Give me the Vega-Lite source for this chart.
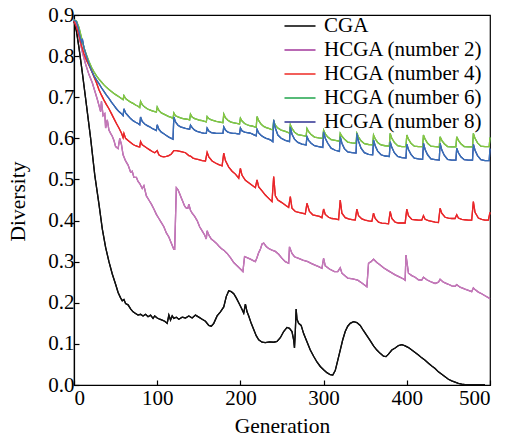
{
"$schema": "https://vega.github.io/schema/vega-lite/v6.json",
"width": 416, "height": 370,
"autosize": {"type": "none"},
"padding": {"left": 74, "top": 15, "right": 16, "bottom": 53},
"background": "white",
"config": {
 "font": "Liberation Serif, Times New Roman, serif",
 "view": {"stroke": "black", "strokeWidth": 1.2},
 "axis": {"grid": false, "domainColor": "black", "domainWidth": 1.2, "tickColor": "black", "tickWidth": 1.2, "tickSize": -5, "labelColor": "black", "titleColor": "black", "labelFont": "Liberation Serif, Times New Roman, serif", "titleFont": "Liberation Serif, Times New Roman, serif", "labelFontSize": 21, "titleFontSize": 21.5, "titleFontWeight": "normal"}
},
"datasets": {
"d": [
{"series":"CGA","gen":0,"div":0.885},{"series":"CGA","gen":3,"div":0.86},{"series":"CGA","gen":6,"div":0.82},{"series":"CGA","gen":10,"div":0.76},{"series":"CGA","gen":15,"div":0.68},{"series":"CGA","gen":20,"div":0.6},{"series":"CGA","gen":25,"div":0.51},{"series":"CGA","gen":30,"div":0.44},{"series":"CGA","gen":34,"div":0.38},{"series":"CGA","gen":38,"div":0.335},{"series":"CGA","gen":42,"div":0.3},{"series":"CGA","gen":46,"div":0.27},{"series":"CGA","gen":50,"div":0.245},{"series":"CGA","gen":53,"div":0.225},{"series":"CGA","gen":56,"div":0.212},{"series":"CGA","gen":58,"div":0.205},{"series":"CGA","gen":60,"div":0.208},{"series":"CGA","gen":62,"div":0.198},{"series":"CGA","gen":65,"div":0.195},{"series":"CGA","gen":68,"div":0.185},{"series":"CGA","gen":71,"div":0.178},{"series":"CGA","gen":74,"div":0.174},{"series":"CGA","gen":77,"div":0.17},{"series":"CGA","gen":80,"div":0.172},{"series":"CGA","gen":83,"div":0.168},{"series":"CGA","gen":86,"div":0.172},{"series":"CGA","gen":89,"div":0.166},{"series":"CGA","gen":92,"div":0.17},{"series":"CGA","gen":95,"div":0.162},{"series":"CGA","gen":97,"div":0.168},{"series":"CGA","gen":100,"div":0.163},{"series":"CGA","gen":103,"div":0.16},{"series":"CGA","gen":106,"div":0.158},{"series":"CGA","gen":109,"div":0.155},{"series":"CGA","gen":112,"div":0.15},{"series":"CGA","gen":114,"div":0.17},{"series":"CGA","gen":116,"div":0.158},{"series":"CGA","gen":118,"div":0.168},{"series":"CGA","gen":120,"div":0.162},{"series":"CGA","gen":123,"div":0.165},{"series":"CGA","gen":126,"div":0.16},{"series":"CGA","gen":130,"div":0.165},{"series":"CGA","gen":134,"div":0.163},{"series":"CGA","gen":138,"div":0.168},{"series":"CGA","gen":142,"div":0.163},{"series":"CGA","gen":146,"div":0.17},{"series":"CGA","gen":150,"div":0.165},{"series":"CGA","gen":154,"div":0.16},{"series":"CGA","gen":158,"div":0.155},{"series":"CGA","gen":162,"div":0.145},{"series":"CGA","gen":165,"div":0.143},{"series":"CGA","gen":168,"div":0.15},{"series":"CGA","gen":172,"div":0.168},{"series":"CGA","gen":176,"div":0.178},{"series":"CGA","gen":180,"div":0.19},{"series":"CGA","gen":183,"div":0.215},{"series":"CGA","gen":186,"div":0.229},{"series":"CGA","gen":189,"div":0.227},{"series":"CGA","gen":192,"div":0.222},{"series":"CGA","gen":195,"div":0.212},{"series":"CGA","gen":198,"div":0.2},{"series":"CGA","gen":201,"div":0.188},{"series":"CGA","gen":204,"div":0.175},{"series":"CGA","gen":206,"div":0.197},{"series":"CGA","gen":208,"div":0.178},{"series":"CGA","gen":210,"div":0.168},{"series":"CGA","gen":213,"div":0.15},{"series":"CGA","gen":216,"div":0.135},{"series":"CGA","gen":219,"div":0.12},{"series":"CGA","gen":222,"div":0.11},{"series":"CGA","gen":226,"div":0.104},{"series":"CGA","gen":230,"div":0.103},{"series":"CGA","gen":235,"div":0.105},{"series":"CGA","gen":240,"div":0.104},{"series":"CGA","gen":244,"div":0.106},{"series":"CGA","gen":248,"div":0.115},{"series":"CGA","gen":252,"div":0.13},{"series":"CGA","gen":256,"div":0.14},{"series":"CGA","gen":259,"div":0.138},{"series":"CGA","gen":262,"div":0.13},{"series":"CGA","gen":264,"div":0.11},{"series":"CGA","gen":265,"div":0.09},{"series":"CGA","gen":266,"div":0.13},{"series":"CGA","gen":267,"div":0.185},{"series":"CGA","gen":268,"div":0.16},{"series":"CGA","gen":270,"div":0.15},{"series":"CGA","gen":273,"div":0.145},{"series":"CGA","gen":276,"div":0.125},{"series":"CGA","gen":280,"div":0.105},{"series":"CGA","gen":284,"div":0.085},{"series":"CGA","gen":288,"div":0.07},{"series":"CGA","gen":292,"div":0.056},{"series":"CGA","gen":296,"div":0.045},{"series":"CGA","gen":300,"div":0.037},{"series":"CGA","gen":304,"div":0.03},{"series":"CGA","gen":308,"div":0.025},{"series":"CGA","gen":311,"div":0.024},{"series":"CGA","gen":314,"div":0.035},{"series":"CGA","gen":317,"div":0.06},{"series":"CGA","gen":320,"div":0.085},{"series":"CGA","gen":323,"div":0.11},{"series":"CGA","gen":326,"div":0.13},{"series":"CGA","gen":329,"div":0.143},{"series":"CGA","gen":332,"div":0.15},{"series":"CGA","gen":336,"div":0.154},{"series":"CGA","gen":340,"div":0.152},{"series":"CGA","gen":344,"div":0.145},{"series":"CGA","gen":348,"div":0.132},{"series":"CGA","gen":352,"div":0.12},{"series":"CGA","gen":356,"div":0.108},{"series":"CGA","gen":360,"div":0.095},{"series":"CGA","gen":364,"div":0.085},{"series":"CGA","gen":368,"div":0.077},{"series":"CGA","gen":372,"div":0.07},{"series":"CGA","gen":375,"div":0.069},{"series":"CGA","gen":378,"div":0.075},{"series":"CGA","gen":382,"div":0.085},{"series":"CGA","gen":386,"div":0.09},{"series":"CGA","gen":390,"div":0.096},{"series":"CGA","gen":394,"div":0.098},{"series":"CGA","gen":398,"div":0.095},{"series":"CGA","gen":402,"div":0.091},{"series":"CGA","gen":406,"div":0.085},{"series":"CGA","gen":410,"div":0.079},{"series":"CGA","gen":414,"div":0.073},{"series":"CGA","gen":418,"div":0.066},{"series":"CGA","gen":422,"div":0.06},{"series":"CGA","gen":426,"div":0.053},{"series":"CGA","gen":430,"div":0.046},{"series":"CGA","gen":434,"div":0.04},{"series":"CGA","gen":438,"div":0.032},{"series":"CGA","gen":442,"div":0.026},{"series":"CGA","gen":446,"div":0.02},{"series":"CGA","gen":450,"div":0.014},{"series":"CGA","gen":454,"div":0.01},{"series":"CGA","gen":458,"div":0.007},{"series":"CGA","gen":462,"div":0.004},{"series":"CGA","gen":466,"div":0.002},{"series":"CGA","gen":470,"div":0.001},{"series":"CGA","gen":480,"div":0.001},{"series":"CGA","gen":494,"div":0.001},

{"series":"HCGA (number 2)","gen":0,"div":0.885},{"series":"HCGA (number 2)","gen":3,"div":0.875},{"series":"HCGA (number 2)","gen":6,"div":0.85},{"series":"HCGA (number 2)","gen":10,"div":0.81},{"series":"HCGA (number 2)","gen":14,"div":0.78},{"series":"HCGA (number 2)","gen":18,"div":0.755},{"series":"HCGA (number 2)","gen":22,"div":0.735},{"series":"HCGA (number 2)","gen":25,"div":0.715},{"series":"HCGA (number 2)","gen":28,"div":0.695},{"series":"HCGA (number 2)","gen":30,"div":0.68},{"series":"HCGA (number 2)","gen":32,"div":0.665},{"series":"HCGA (number 2)","gen":33,"div":0.69},{"series":"HCGA (number 2)","gen":35,"div":0.655},{"series":"HCGA (number 2)","gen":37,"div":0.66},{"series":"HCGA (number 2)","gen":38,"div":0.625},{"series":"HCGA (number 2)","gen":40,"div":0.645},{"series":"HCGA (number 2)","gen":42,"div":0.62},{"series":"HCGA (number 2)","gen":44,"div":0.612},{"series":"HCGA (number 2)","gen":46,"div":0.605},{"series":"HCGA (number 2)","gen":48,"div":0.595},{"series":"HCGA (number 2)","gen":50,"div":0.58},{"series":"HCGA (number 2)","gen":53,"div":0.575},{"series":"HCGA (number 2)","gen":55,"div":0.6},{"series":"HCGA (number 2)","gen":57,"div":0.585},{"series":"HCGA (number 2)","gen":59,"div":0.56},{"series":"HCGA (number 2)","gen":62,"div":0.545},{"series":"HCGA (number 2)","gen":65,"div":0.535},{"series":"HCGA (number 2)","gen":68,"div":0.518},{"series":"HCGA (number 2)","gen":70,"div":0.52},{"series":"HCGA (number 2)","gen":72,"div":0.505},{"series":"HCGA (number 2)","gen":75,"div":0.505},{"series":"HCGA (number 2)","gen":77,"div":0.495},{"series":"HCGA (number 2)","gen":79,"div":0.49},{"series":"HCGA (number 2)","gen":82,"div":0.478},{"series":"HCGA (number 2)","gen":84,"div":0.485},{"series":"HCGA (number 2)","gen":87,"div":0.46},{"series":"HCGA (number 2)","gen":90,"div":0.45},{"series":"HCGA (number 2)","gen":93,"div":0.44},{"series":"HCGA (number 2)","gen":96,"div":0.428},{"series":"HCGA (number 2)","gen":99,"div":0.415},{"series":"HCGA (number 2)","gen":102,"div":0.405},{"series":"HCGA (number 2)","gen":105,"div":0.395},{"series":"HCGA (number 2)","gen":108,"div":0.385},{"series":"HCGA (number 2)","gen":111,"div":0.37},{"series":"HCGA (number 2)","gen":114,"div":0.36},{"series":"HCGA (number 2)","gen":117,"div":0.345},{"series":"HCGA (number 2)","gen":120,"div":0.33},{"series":"HCGA (number 2)","gen":121,"div":0.33},{"series":"HCGA (number 2)","gen":123,"div":0.48},{"series":"HCGA (number 2)","gen":125,"div":0.475},{"series":"HCGA (number 2)","gen":127,"div":0.465},{"series":"HCGA (number 2)","gen":129,"div":0.455},{"series":"HCGA (number 2)","gen":131,"div":0.445},{"series":"HCGA (number 2)","gen":133,"div":0.435},{"series":"HCGA (number 2)","gen":135,"div":0.43},{"series":"HCGA (number 2)","gen":137,"div":0.43},{"series":"HCGA (number 2)","gen":138,"div":0.44},{"series":"HCGA (number 2)","gen":140,"div":0.425},{"series":"HCGA (number 2)","gen":142,"div":0.418},{"series":"HCGA (number 2)","gen":145,"div":0.41},{"series":"HCGA (number 2)","gen":148,"div":0.4},{"series":"HCGA (number 2)","gen":151,"div":0.385},{"series":"HCGA (number 2)","gen":154,"div":0.375},{"series":"HCGA (number 2)","gen":157,"div":0.365},{"series":"HCGA (number 2)","gen":159,"div":0.355},{"series":"HCGA (number 2)","gen":160,"div":0.375},{"series":"HCGA (number 2)","gen":162,"div":0.365},{"series":"HCGA (number 2)","gen":165,"div":0.355},{"series":"HCGA (number 2)","gen":168,"div":0.35},{"series":"HCGA (number 2)","gen":171,"div":0.345},{"series":"HCGA (number 2)","gen":174,"div":0.338},{"series":"HCGA (number 2)","gen":177,"div":0.332},{"series":"HCGA (number 2)","gen":180,"div":0.328},{"series":"HCGA (number 2)","gen":184,"div":0.32},{"series":"HCGA (number 2)","gen":188,"div":0.31},{"series":"HCGA (number 2)","gen":192,"div":0.298},{"series":"HCGA (number 2)","gen":196,"div":0.29},{"series":"HCGA (number 2)","gen":200,"div":0.282},{"series":"HCGA (number 2)","gen":203,"div":0.276},{"series":"HCGA (number 2)","gen":205,"div":0.312},{"series":"HCGA (number 2)","gen":208,"div":0.31},{"series":"HCGA (number 2)","gen":212,"div":0.306},{"series":"HCGA (number 2)","gen":216,"div":0.302},{"series":"HCGA (number 2)","gen":218,"div":0.3},{"series":"HCGA (number 2)","gen":220,"div":0.31},{"series":"HCGA (number 2)","gen":222,"div":0.322},{"series":"HCGA (number 2)","gen":224,"div":0.33},{"series":"HCGA (number 2)","gen":226,"div":0.343},{"series":"HCGA (number 2)","gen":228,"div":0.345},{"series":"HCGA (number 2)","gen":231,"div":0.337},{"series":"HCGA (number 2)","gen":234,"div":0.332},{"series":"HCGA (number 2)","gen":238,"div":0.328},{"series":"HCGA (number 2)","gen":242,"div":0.325},{"series":"HCGA (number 2)","gen":246,"div":0.318},{"series":"HCGA (number 2)","gen":250,"div":0.308},{"series":"HCGA (number 2)","gen":254,"div":0.3},{"series":"HCGA (number 2)","gen":258,"div":0.296},{"series":"HCGA (number 2)","gen":259,"div":0.336},{"series":"HCGA (number 2)","gen":262,"div":0.32},{"series":"HCGA (number 2)","gen":265,"div":0.312},{"series":"HCGA (number 2)","gen":270,"div":0.308},{"series":"HCGA (number 2)","gen":275,"div":0.304},{"series":"HCGA (number 2)","gen":281,"div":0.3},{"series":"HCGA (number 2)","gen":285,"div":0.296},{"series":"HCGA (number 2)","gen":289,"div":0.292},{"series":"HCGA (number 2)","gen":294,"div":0.288},{"series":"HCGA (number 2)","gen":298,"div":0.284},{"series":"HCGA (number 2)","gen":300,"div":0.308},{"series":"HCGA (number 2)","gen":302,"div":0.29},{"series":"HCGA (number 2)","gen":307,"div":0.282},{"series":"HCGA (number 2)","gen":313,"div":0.276},{"series":"HCGA (number 2)","gen":317,"div":0.276},{"series":"HCGA (number 2)","gen":320,"div":0.285},{"series":"HCGA (number 2)","gen":322,"div":0.272},{"series":"HCGA (number 2)","gen":326,"div":0.265},{"series":"HCGA (number 2)","gen":329,"div":0.26},{"series":"HCGA (number 2)","gen":335,"div":0.258},{"series":"HCGA (number 2)","gen":341,"div":0.255},{"series":"HCGA (number 2)","gen":346,"div":0.248},{"series":"HCGA (number 2)","gen":352,"div":0.239},{"series":"HCGA (number 2)","gen":354,"div":0.296},{"series":"HCGA (number 2)","gen":357,"div":0.3},{"series":"HCGA (number 2)","gen":360,"div":0.306},{"series":"HCGA (number 2)","gen":364,"div":0.298},{"series":"HCGA (number 2)","gen":368,"div":0.292},{"series":"HCGA (number 2)","gen":372,"div":0.285},{"series":"HCGA (number 2)","gen":376,"div":0.28},{"series":"HCGA (number 2)","gen":381,"div":0.274},{"series":"HCGA (number 2)","gen":386,"div":0.268},{"series":"HCGA (number 2)","gen":391,"div":0.263},{"series":"HCGA (number 2)","gen":396,"div":0.258},{"series":"HCGA (number 2)","gen":398,"div":0.255},{"series":"HCGA (number 2)","gen":399,"div":0.316},{"series":"HCGA (number 2)","gen":402,"div":0.272},{"series":"HCGA (number 2)","gen":406,"div":0.266},{"series":"HCGA (number 2)","gen":410,"div":0.262},{"series":"HCGA (number 2)","gen":414,"div":0.256},{"series":"HCGA (number 2)","gen":418,"div":0.255},{"series":"HCGA (number 2)","gen":420,"div":0.262},{"series":"HCGA (number 2)","gen":424,"div":0.256},{"series":"HCGA (number 2)","gen":430,"div":0.25},{"series":"HCGA (number 2)","gen":434,"div":0.247},{"series":"HCGA (number 2)","gen":438,"div":0.25},{"series":"HCGA (number 2)","gen":440,"div":0.257},{"series":"HCGA (number 2)","gen":444,"div":0.25},{"series":"HCGA (number 2)","gen":450,"div":0.245},{"series":"HCGA (number 2)","gen":454,"div":0.241},{"series":"HCGA (number 2)","gen":458,"div":0.24},{"series":"HCGA (number 2)","gen":460,"div":0.244},{"series":"HCGA (number 2)","gen":464,"div":0.238},{"series":"HCGA (number 2)","gen":470,"div":0.233},{"series":"HCGA (number 2)","gen":474,"div":0.23},{"series":"HCGA (number 2)","gen":478,"div":0.227},{"series":"HCGA (number 2)","gen":480,"div":0.236},{"series":"HCGA (number 2)","gen":482,"div":0.232},{"series":"HCGA (number 2)","gen":486,"div":0.226},{"series":"HCGA (number 2)","gen":490,"div":0.222},{"series":"HCGA (number 2)","gen":494,"div":0.217},{"series":"HCGA (number 2)","gen":500,"div":0.21},

{"series":"HCGA (number 4)","gen":0,"div":0.885},{"series":"HCGA (number 4)","gen":3,"div":0.87},{"series":"HCGA (number 4)","gen":6,"div":0.85},{"series":"HCGA (number 4)","gen":9,"div":0.825},{"series":"HCGA (number 4)","gen":12,"div":0.805},{"series":"HCGA (number 4)","gen":15,"div":0.79},{"series":"HCGA (number 4)","gen":18,"div":0.778},{"series":"HCGA (number 4)","gen":21,"div":0.765},{"series":"HCGA (number 4)","gen":24,"div":0.75},{"series":"HCGA (number 4)","gen":27,"div":0.735},{"series":"HCGA (number 4)","gen":30,"div":0.718},{"series":"HCGA (number 4)","gen":33,"div":0.705},{"series":"HCGA (number 4)","gen":36,"div":0.693},{"series":"HCGA (number 4)","gen":39,"div":0.682},{"series":"HCGA (number 4)","gen":42,"div":0.672},{"series":"HCGA (number 4)","gen":45,"div":0.66},{"series":"HCGA (number 4)","gen":48,"div":0.648},{"series":"HCGA (number 4)","gen":51,"div":0.636},{"series":"HCGA (number 4)","gen":54,"div":0.625},{"series":"HCGA (number 4)","gen":57,"div":0.613},{"series":"HCGA (number 4)","gen":59,"div":0.602},{"series":"HCGA (number 4)","gen":60,"div":0.612},{"series":"HCGA (number 4)","gen":62,"div":0.6},{"series":"HCGA (number 4)","gen":65,"div":0.595},{"series":"HCGA (number 4)","gen":68,"div":0.59},{"series":"HCGA (number 4)","gen":71,"div":0.585},{"series":"HCGA (number 4)","gen":74,"div":0.582},{"series":"HCGA (number 4)","gen":77,"div":0.58},{"series":"HCGA (number 4)","gen":79,"div":0.579},{"series":"HCGA (number 4)","gen":80,"div":0.592},{"series":"HCGA (number 4)","gen":82,"div":0.584},{"series":"HCGA (number 4)","gen":85,"div":0.58},{"series":"HCGA (number 4)","gen":88,"div":0.576},{"series":"HCGA (number 4)","gen":91,"div":0.572},{"series":"HCGA (number 4)","gen":94,"div":0.568},{"series":"HCGA (number 4)","gen":97,"div":0.565},{"series":"HCGA (number 4)","gen":100,"div":0.57},{"series":"HCGA (number 4)","gen":102,"div":0.56},{"series":"HCGA (number 4)","gen":105,"div":0.556},{"series":"HCGA (number 4)","gen":108,"div":0.555},{"series":"HCGA (number 4)","gen":111,"div":0.556},{"series":"HCGA (number 4)","gen":114,"div":0.558},{"series":"HCGA (number 4)","gen":117,"div":0.562},{"series":"HCGA (number 4)","gen":120,"div":0.57},{"series":"HCGA (number 4)","gen":123,"div":0.57},{"series":"HCGA (number 4)","gen":126,"div":0.569},{"series":"HCGA (number 4)","gen":130,"div":0.567},{"series":"HCGA (number 4)","gen":134,"div":0.565},{"series":"HCGA (number 4)","gen":138,"div":0.558},{"series":"HCGA (number 4)","gen":140,"div":0.557},{"series":"HCGA (number 4)","gen":143,"div":0.552},{"series":"HCGA (number 4)","gen":146,"div":0.55},{"series":"HCGA (number 4)","gen":150,"div":0.548},{"series":"HCGA (number 4)","gen":154,"div":0.546},{"series":"HCGA (number 4)","gen":158,"div":0.545},{"series":"HCGA (number 4)","gen":160,"div":0.566},{"series":"HCGA (number 4)","gen":162,"div":0.555},{"series":"HCGA (number 4)","gen":166,"div":0.545},{"series":"HCGA (number 4)","gen":170,"div":0.54},{"series":"HCGA (number 4)","gen":174,"div":0.536},{"series":"HCGA (number 4)","gen":178,"div":0.533},{"series":"HCGA (number 4)","gen":180,"div":0.564},{"series":"HCGA (number 4)","gen":182,"div":0.546},{"series":"HCGA (number 4)","gen":186,"div":0.53},{"series":"HCGA (number 4)","gen":190,"div":0.52},{"series":"HCGA (number 4)","gen":194,"div":0.513},{"series":"HCGA (number 4)","gen":198,"div":0.503},{"series":"HCGA (number 4)","gen":200,"div":0.527},{"series":"HCGA (number 4)","gen":202,"div":0.51},{"series":"HCGA (number 4)","gen":206,"div":0.498},{"series":"HCGA (number 4)","gen":210,"div":0.492},{"series":"HCGA (number 4)","gen":214,"div":0.486},{"series":"HCGA (number 4)","gen":218,"div":0.48},{"series":"HCGA (number 4)","gen":220,"div":0.499},{"series":"HCGA (number 4)","gen":222,"div":0.482},{"series":"HCGA (number 4)","gen":226,"div":0.472},{"series":"HCGA (number 4)","gen":230,"div":0.462},{"series":"HCGA (number 4)","gen":234,"div":0.454},{"series":"HCGA (number 4)","gen":238,"div":0.446},{"series":"HCGA (number 4)","gen":240,"div":0.507},{"series":"HCGA (number 4)","gen":242,"div":0.46},{"series":"HCGA (number 4)","gen":245,"div":0.45},{"series":"HCGA (number 4)","gen":248,"div":0.446},{"series":"HCGA (number 4)","gen":251,"div":0.442},{"series":"HCGA (number 4)","gen":255,"div":0.436},{"series":"HCGA (number 4)","gen":258,"div":0.432},{"series":"HCGA (number 4)","gen":260,"div":0.458},{"series":"HCGA (number 4)","gen":262,"div":0.43},{"series":"HCGA (number 4)","gen":266,"div":0.422},{"series":"HCGA (number 4)","gen":270,"div":0.42},{"series":"HCGA (number 4)","gen":274,"div":0.418},{"series":"HCGA (number 4)","gen":278,"div":0.416},{"series":"HCGA (number 4)","gen":280,"div":0.442},{"series":"HCGA (number 4)","gen":283,"div":0.422},{"series":"HCGA (number 4)","gen":287,"div":0.414},{"series":"HCGA (number 4)","gen":291,"div":0.412},{"series":"HCGA (number 4)","gen":295,"div":0.41},{"series":"HCGA (number 4)","gen":298,"div":0.407},{"series":"HCGA (number 4)","gen":300,"div":0.428},{"series":"HCGA (number 4)","gen":302,"div":0.415},{"series":"HCGA (number 4)","gen":306,"div":0.408},{"series":"HCGA (number 4)","gen":310,"div":0.405},{"series":"HCGA (number 4)","gen":314,"div":0.404},{"series":"HCGA (number 4)","gen":318,"div":0.402},{"series":"HCGA (number 4)","gen":320,"div":0.45},{"series":"HCGA (number 4)","gen":322,"div":0.418},{"series":"HCGA (number 4)","gen":326,"div":0.407},{"series":"HCGA (number 4)","gen":330,"div":0.404},{"series":"HCGA (number 4)","gen":334,"div":0.402},{"series":"HCGA (number 4)","gen":338,"div":0.401},{"series":"HCGA (number 4)","gen":340,"div":0.428},{"series":"HCGA (number 4)","gen":342,"div":0.412},{"series":"HCGA (number 4)","gen":346,"div":0.404},{"series":"HCGA (number 4)","gen":350,"div":0.401},{"series":"HCGA (number 4)","gen":354,"div":0.399},{"series":"HCGA (number 4)","gen":358,"div":0.398},{"series":"HCGA (number 4)","gen":360,"div":0.418},{"series":"HCGA (number 4)","gen":362,"div":0.405},{"series":"HCGA (number 4)","gen":366,"div":0.396},{"series":"HCGA (number 4)","gen":370,"div":0.394},{"series":"HCGA (number 4)","gen":374,"div":0.393},{"series":"HCGA (number 4)","gen":378,"div":0.392},{"series":"HCGA (number 4)","gen":380,"div":0.422},{"series":"HCGA (number 4)","gen":382,"div":0.405},{"series":"HCGA (number 4)","gen":386,"div":0.396},{"series":"HCGA (number 4)","gen":390,"div":0.394},{"series":"HCGA (number 4)","gen":394,"div":0.394},{"series":"HCGA (number 4)","gen":398,"div":0.394},{"series":"HCGA (number 4)","gen":400,"div":0.428},{"series":"HCGA (number 4)","gen":402,"div":0.412},{"series":"HCGA (number 4)","gen":406,"div":0.403},{"series":"HCGA (number 4)","gen":410,"div":0.402},{"series":"HCGA (number 4)","gen":414,"div":0.401},{"series":"HCGA (number 4)","gen":418,"div":0.401},{"series":"HCGA (number 4)","gen":420,"div":0.412},{"series":"HCGA (number 4)","gen":422,"div":0.403},{"series":"HCGA (number 4)","gen":426,"div":0.4},{"series":"HCGA (number 4)","gen":430,"div":0.398},{"series":"HCGA (number 4)","gen":434,"div":0.396},{"series":"HCGA (number 4)","gen":438,"div":0.395},{"series":"HCGA (number 4)","gen":440,"div":0.43},{"series":"HCGA (number 4)","gen":442,"div":0.418},{"series":"HCGA (number 4)","gen":446,"div":0.408},{"series":"HCGA (number 4)","gen":450,"div":0.406},{"series":"HCGA (number 4)","gen":454,"div":0.405},{"series":"HCGA (number 4)","gen":458,"div":0.405},{"series":"HCGA (number 4)","gen":460,"div":0.414},{"series":"HCGA (number 4)","gen":462,"div":0.406},{"series":"HCGA (number 4)","gen":466,"div":0.403},{"series":"HCGA (number 4)","gen":470,"div":0.402},{"series":"HCGA (number 4)","gen":474,"div":0.401},{"series":"HCGA (number 4)","gen":478,"div":0.401},{"series":"HCGA (number 4)","gen":480,"div":0.446},{"series":"HCGA (number 4)","gen":482,"div":0.42},{"series":"HCGA (number 4)","gen":486,"div":0.406},{"series":"HCGA (number 4)","gen":490,"div":0.403},{"series":"HCGA (number 4)","gen":494,"div":0.401},{"series":"HCGA (number 4)","gen":498,"div":0.401},{"series":"HCGA (number 4)","gen":500,"div":0.42},

{"series":"HCGA (number 6)","gen":0,"div":0.888},{"series":"HCGA (number 6)","gen":3,"div":0.885},{"series":"HCGA (number 6)","gen":6,"div":0.87},{"series":"HCGA (number 6)","gen":9,"div":0.845},{"series":"HCGA (number 6)","gen":12,"div":0.82},{"series":"HCGA (number 6)","gen":15,"div":0.803},{"series":"HCGA (number 6)","gen":18,"div":0.787},{"series":"HCGA (number 6)","gen":21,"div":0.773},{"series":"HCGA (number 6)","gen":24,"div":0.762},{"series":"HCGA (number 6)","gen":27,"div":0.752},{"series":"HCGA (number 6)","gen":30,"div":0.744},{"series":"HCGA (number 6)","gen":33,"div":0.737},{"series":"HCGA (number 6)","gen":36,"div":0.73},{"series":"HCGA (number 6)","gen":39,"div":0.724},{"series":"HCGA (number 6)","gen":42,"div":0.719},{"series":"HCGA (number 6)","gen":45,"div":0.714},{"series":"HCGA (number 6)","gen":48,"div":0.709},{"series":"HCGA (number 6)","gen":51,"div":0.705},{"series":"HCGA (number 6)","gen":54,"div":0.701},{"series":"HCGA (number 6)","gen":57,"div":0.697},{"series":"HCGA (number 6)","gen":59,"div":0.694},{"series":"HCGA (number 6)","gen":60,"div":0.704},{"series":"HCGA (number 6)","gen":62,"div":0.697},{"series":"HCGA (number 6)","gen":65,"div":0.692},{"series":"HCGA (number 6)","gen":68,"div":0.688},{"series":"HCGA (number 6)","gen":71,"div":0.685},{"series":"HCGA (number 6)","gen":74,"div":0.681},{"series":"HCGA (number 6)","gen":77,"div":0.678},{"series":"HCGA (number 6)","gen":79,"div":0.675},{"series":"HCGA (number 6)","gen":80,"div":0.69},{"series":"HCGA (number 6)","gen":82,"div":0.682},{"series":"HCGA (number 6)","gen":85,"div":0.676},{"series":"HCGA (number 6)","gen":88,"div":0.672},{"series":"HCGA (number 6)","gen":91,"div":0.669},{"series":"HCGA (number 6)","gen":94,"div":0.667},{"series":"HCGA (number 6)","gen":97,"div":0.665},{"series":"HCGA (number 6)","gen":99,"div":0.664},{"series":"HCGA (number 6)","gen":100,"div":0.676},{"series":"HCGA (number 6)","gen":102,"div":0.668},{"series":"HCGA (number 6)","gen":105,"div":0.662},{"series":"HCGA (number 6)","gen":108,"div":0.659},{"series":"HCGA (number 6)","gen":111,"div":0.656},{"series":"HCGA (number 6)","gen":114,"div":0.653},{"series":"HCGA (number 6)","gen":117,"div":0.651},{"series":"HCGA (number 6)","gen":119,"div":0.648},{"series":"HCGA (number 6)","gen":120,"div":0.662},{"series":"HCGA (number 6)","gen":122,"div":0.655},{"series":"HCGA (number 6)","gen":125,"div":0.652},{"series":"HCGA (number 6)","gen":128,"div":0.65},{"series":"HCGA (number 6)","gen":131,"div":0.648},{"series":"HCGA (number 6)","gen":134,"div":0.647},{"series":"HCGA (number 6)","gen":137,"div":0.646},{"series":"HCGA (number 6)","gen":139,"div":0.645},{"series":"HCGA (number 6)","gen":140,"div":0.659},{"series":"HCGA (number 6)","gen":142,"div":0.652},{"series":"HCGA (number 6)","gen":145,"div":0.648},{"series":"HCGA (number 6)","gen":148,"div":0.646},{"series":"HCGA (number 6)","gen":151,"div":0.644},{"series":"HCGA (number 6)","gen":154,"div":0.643},{"series":"HCGA (number 6)","gen":157,"div":0.641},{"series":"HCGA (number 6)","gen":159,"div":0.64},{"series":"HCGA (number 6)","gen":160,"div":0.653},{"series":"HCGA (number 6)","gen":162,"div":0.648},{"series":"HCGA (number 6)","gen":165,"div":0.645},{"series":"HCGA (number 6)","gen":168,"div":0.643},{"series":"HCGA (number 6)","gen":171,"div":0.641},{"series":"HCGA (number 6)","gen":174,"div":0.64},{"series":"HCGA (number 6)","gen":177,"div":0.639},{"series":"HCGA (number 6)","gen":179,"div":0.638},{"series":"HCGA (number 6)","gen":180,"div":0.659},{"series":"HCGA (number 6)","gen":182,"div":0.65},{"series":"HCGA (number 6)","gen":185,"div":0.644},{"series":"HCGA (number 6)","gen":188,"div":0.64},{"series":"HCGA (number 6)","gen":191,"div":0.638},{"series":"HCGA (number 6)","gen":194,"div":0.637},{"series":"HCGA (number 6)","gen":197,"div":0.636},{"series":"HCGA (number 6)","gen":199,"div":0.635},{"series":"HCGA (number 6)","gen":200,"div":0.649},{"series":"HCGA (number 6)","gen":202,"div":0.642},{"series":"HCGA (number 6)","gen":205,"div":0.636},{"series":"HCGA (number 6)","gen":208,"div":0.633},{"series":"HCGA (number 6)","gen":211,"div":0.631},{"series":"HCGA (number 6)","gen":214,"div":0.63},{"series":"HCGA (number 6)","gen":217,"div":0.628},{"series":"HCGA (number 6)","gen":219,"div":0.627},{"series":"HCGA (number 6)","gen":220,"div":0.653},{"series":"HCGA (number 6)","gen":222,"div":0.643},{"series":"HCGA (number 6)","gen":225,"div":0.634},{"series":"HCGA (number 6)","gen":228,"div":0.629},{"series":"HCGA (number 6)","gen":231,"div":0.626},{"series":"HCGA (number 6)","gen":234,"div":0.624},{"series":"HCGA (number 6)","gen":237,"div":0.622},{"series":"HCGA (number 6)","gen":239,"div":0.621},{"series":"HCGA (number 6)","gen":240,"div":0.641},{"series":"HCGA (number 6)","gen":242,"div":0.632},{"series":"HCGA (number 6)","gen":245,"div":0.625},{"series":"HCGA (number 6)","gen":249,"div":0.62},{"series":"HCGA (number 6)","gen":254,"div":0.617},{"series":"HCGA (number 6)","gen":259,"div":0.613},{"series":"HCGA (number 6)","gen":260,"div":0.633},{"series":"HCGA (number 6)","gen":262,"div":0.624},{"series":"HCGA (number 6)","gen":265,"div":0.615},{"series":"HCGA (number 6)","gen":269,"div":0.609},{"series":"HCGA (number 6)","gen":274,"div":0.607},{"series":"HCGA (number 6)","gen":279,"div":0.605},{"series":"HCGA (number 6)","gen":280,"div":0.624},{"series":"HCGA (number 6)","gen":282,"div":0.616},{"series":"HCGA (number 6)","gen":285,"div":0.609},{"series":"HCGA (number 6)","gen":289,"div":0.603},{"series":"HCGA (number 6)","gen":294,"div":0.601},{"series":"HCGA (number 6)","gen":299,"div":0.6},{"series":"HCGA (number 6)","gen":300,"div":0.62},{"series":"HCGA (number 6)","gen":302,"div":0.611},{"series":"HCGA (number 6)","gen":305,"div":0.603},{"series":"HCGA (number 6)","gen":309,"div":0.597},{"series":"HCGA (number 6)","gen":314,"div":0.595},{"series":"HCGA (number 6)","gen":319,"div":0.593},{"series":"HCGA (number 6)","gen":320,"div":0.612},{"series":"HCGA (number 6)","gen":322,"div":0.605},{"series":"HCGA (number 6)","gen":325,"div":0.598},{"series":"HCGA (number 6)","gen":329,"div":0.591},{"series":"HCGA (number 6)","gen":334,"div":0.589},{"series":"HCGA (number 6)","gen":339,"div":0.588},{"series":"HCGA (number 6)","gen":340,"div":0.612},{"series":"HCGA (number 6)","gen":342,"div":0.603},{"series":"HCGA (number 6)","gen":345,"div":0.594},{"series":"HCGA (number 6)","gen":349,"div":0.587},{"series":"HCGA (number 6)","gen":354,"div":0.585},{"series":"HCGA (number 6)","gen":359,"div":0.584},{"series":"HCGA (number 6)","gen":360,"div":0.608},{"series":"HCGA (number 6)","gen":362,"div":0.599},{"series":"HCGA (number 6)","gen":365,"div":0.59},{"series":"HCGA (number 6)","gen":369,"div":0.584},{"series":"HCGA (number 6)","gen":374,"div":0.582},{"series":"HCGA (number 6)","gen":379,"div":0.581},{"series":"HCGA (number 6)","gen":380,"div":0.612},{"series":"HCGA (number 6)","gen":382,"div":0.6},{"series":"HCGA (number 6)","gen":385,"div":0.59},{"series":"HCGA (number 6)","gen":389,"div":0.582},{"series":"HCGA (number 6)","gen":394,"div":0.58},{"series":"HCGA (number 6)","gen":399,"div":0.58},{"series":"HCGA (number 6)","gen":400,"div":0.608},{"series":"HCGA (number 6)","gen":402,"div":0.598},{"series":"HCGA (number 6)","gen":405,"div":0.588},{"series":"HCGA (number 6)","gen":409,"div":0.581},{"series":"HCGA (number 6)","gen":414,"div":0.58},{"series":"HCGA (number 6)","gen":419,"div":0.58},{"series":"HCGA (number 6)","gen":420,"div":0.608},{"series":"HCGA (number 6)","gen":422,"div":0.598},{"series":"HCGA (number 6)","gen":425,"div":0.588},{"series":"HCGA (number 6)","gen":429,"div":0.581},{"series":"HCGA (number 6)","gen":434,"div":0.58},{"series":"HCGA (number 6)","gen":439,"div":0.579},{"series":"HCGA (number 6)","gen":440,"div":0.604},{"series":"HCGA (number 6)","gen":442,"div":0.595},{"series":"HCGA (number 6)","gen":445,"div":0.587},{"series":"HCGA (number 6)","gen":449,"div":0.58},{"series":"HCGA (number 6)","gen":454,"div":0.579},{"series":"HCGA (number 6)","gen":459,"div":0.579},{"series":"HCGA (number 6)","gen":460,"div":0.604},{"series":"HCGA (number 6)","gen":462,"div":0.595},{"series":"HCGA (number 6)","gen":465,"div":0.587},{"series":"HCGA (number 6)","gen":469,"div":0.58},{"series":"HCGA (number 6)","gen":474,"div":0.579},{"series":"HCGA (number 6)","gen":479,"div":0.579},{"series":"HCGA (number 6)","gen":480,"div":0.612},{"series":"HCGA (number 6)","gen":482,"div":0.6},{"series":"HCGA (number 6)","gen":485,"div":0.589},{"series":"HCGA (number 6)","gen":489,"div":0.581},{"series":"HCGA (number 6)","gen":494,"div":0.58},{"series":"HCGA (number 6)","gen":499,"div":0.58},{"series":"HCGA (number 6)","gen":500,"div":0.602},

{"series":"HCGA (number 8)","gen":0,"div":0.888},{"series":"HCGA (number 8)","gen":3,"div":0.884},{"series":"HCGA (number 8)","gen":5,"div":0.87},{"series":"HCGA (number 8)","gen":7,"div":0.85},{"series":"HCGA (number 8)","gen":9,"div":0.835},{"series":"HCGA (number 8)","gen":10,"div":0.842},{"series":"HCGA (number 8)","gen":12,"div":0.82},{"series":"HCGA (number 8)","gen":15,"div":0.8},{"series":"HCGA (number 8)","gen":18,"div":0.78},{"series":"HCGA (number 8)","gen":21,"div":0.765},{"series":"HCGA (number 8)","gen":24,"div":0.752},{"series":"HCGA (number 8)","gen":27,"div":0.742},{"series":"HCGA (number 8)","gen":30,"div":0.733},{"series":"HCGA (number 8)","gen":33,"div":0.723},{"series":"HCGA (number 8)","gen":36,"div":0.714},{"series":"HCGA (number 8)","gen":39,"div":0.705},{"series":"HCGA (number 8)","gen":42,"div":0.697},{"series":"HCGA (number 8)","gen":45,"div":0.688},{"series":"HCGA (number 8)","gen":48,"div":0.68},{"series":"HCGA (number 8)","gen":51,"div":0.672},{"series":"HCGA (number 8)","gen":54,"div":0.665},{"series":"HCGA (number 8)","gen":57,"div":0.66},{"series":"HCGA (number 8)","gen":59,"div":0.655},{"series":"HCGA (number 8)","gen":60,"div":0.672},{"series":"HCGA (number 8)","gen":62,"div":0.662},{"series":"HCGA (number 8)","gen":65,"div":0.655},{"series":"HCGA (number 8)","gen":68,"div":0.648},{"series":"HCGA (number 8)","gen":71,"div":0.643},{"series":"HCGA (number 8)","gen":74,"div":0.639},{"series":"HCGA (number 8)","gen":77,"div":0.636},{"series":"HCGA (number 8)","gen":79,"div":0.633},{"series":"HCGA (number 8)","gen":80,"div":0.652},{"series":"HCGA (number 8)","gen":82,"div":0.641},{"series":"HCGA (number 8)","gen":85,"div":0.635},{"series":"HCGA (number 8)","gen":88,"div":0.631},{"series":"HCGA (number 8)","gen":91,"div":0.628},{"series":"HCGA (number 8)","gen":94,"div":0.624},{"series":"HCGA (number 8)","gen":97,"div":0.621},{"series":"HCGA (number 8)","gen":99,"div":0.619},{"series":"HCGA (number 8)","gen":100,"div":0.633},{"series":"HCGA (number 8)","gen":102,"div":0.622},{"series":"HCGA (number 8)","gen":105,"div":0.615},{"series":"HCGA (number 8)","gen":108,"div":0.611},{"series":"HCGA (number 8)","gen":111,"div":0.607},{"series":"HCGA (number 8)","gen":114,"div":0.603},{"series":"HCGA (number 8)","gen":117,"div":0.6},{"series":"HCGA (number 8)","gen":119,"div":0.598},{"series":"HCGA (number 8)","gen":120,"div":0.652},{"series":"HCGA (number 8)","gen":122,"div":0.64},{"series":"HCGA (number 8)","gen":125,"div":0.632},{"series":"HCGA (number 8)","gen":128,"div":0.628},{"series":"HCGA (number 8)","gen":131,"div":0.626},{"series":"HCGA (number 8)","gen":134,"div":0.624},{"series":"HCGA (number 8)","gen":137,"div":0.623},{"series":"HCGA (number 8)","gen":139,"div":0.622},{"series":"HCGA (number 8)","gen":140,"div":0.632},{"series":"HCGA (number 8)","gen":142,"div":0.626},{"series":"HCGA (number 8)","gen":145,"div":0.62},{"series":"HCGA (number 8)","gen":148,"div":0.617},{"series":"HCGA (number 8)","gen":151,"div":0.615},{"series":"HCGA (number 8)","gen":154,"div":0.613},{"series":"HCGA (number 8)","gen":157,"div":0.612},{"series":"HCGA (number 8)","gen":159,"div":0.612},{"series":"HCGA (number 8)","gen":160,"div":0.625},{"series":"HCGA (number 8)","gen":162,"div":0.618},{"series":"HCGA (number 8)","gen":165,"div":0.614},{"series":"HCGA (number 8)","gen":168,"div":0.613},{"series":"HCGA (number 8)","gen":171,"div":0.612},{"series":"HCGA (number 8)","gen":174,"div":0.612},{"series":"HCGA (number 8)","gen":177,"div":0.612},{"series":"HCGA (number 8)","gen":179,"div":0.612},{"series":"HCGA (number 8)","gen":180,"div":0.628},{"series":"HCGA (number 8)","gen":182,"div":0.62},{"series":"HCGA (number 8)","gen":185,"div":0.615},{"series":"HCGA (number 8)","gen":188,"div":0.613},{"series":"HCGA (number 8)","gen":191,"div":0.612},{"series":"HCGA (number 8)","gen":194,"div":0.612},{"series":"HCGA (number 8)","gen":197,"div":0.611},{"series":"HCGA (number 8)","gen":199,"div":0.611},{"series":"HCGA (number 8)","gen":200,"div":0.625},{"series":"HCGA (number 8)","gen":202,"div":0.618},{"series":"HCGA (number 8)","gen":205,"div":0.615},{"series":"HCGA (number 8)","gen":208,"div":0.614},{"series":"HCGA (number 8)","gen":211,"div":0.613},{"series":"HCGA (number 8)","gen":214,"div":0.611},{"series":"HCGA (number 8)","gen":217,"div":0.608},{"series":"HCGA (number 8)","gen":219,"div":0.606},{"series":"HCGA (number 8)","gen":220,"div":0.622},{"series":"HCGA (number 8)","gen":222,"div":0.613},{"series":"HCGA (number 8)","gen":225,"div":0.607},{"series":"HCGA (number 8)","gen":228,"div":0.603},{"series":"HCGA (number 8)","gen":231,"div":0.6},{"series":"HCGA (number 8)","gen":234,"div":0.598},{"series":"HCGA (number 8)","gen":237,"div":0.595},{"series":"HCGA (number 8)","gen":239,"div":0.592},{"series":"HCGA (number 8)","gen":240,"div":0.645},{"series":"HCGA (number 8)","gen":242,"div":0.625},{"series":"HCGA (number 8)","gen":245,"div":0.608},{"series":"HCGA (number 8)","gen":249,"div":0.6},{"series":"HCGA (number 8)","gen":254,"div":0.595},{"series":"HCGA (number 8)","gen":259,"div":0.592},{"series":"HCGA (number 8)","gen":260,"div":0.628},{"series":"HCGA (number 8)","gen":262,"div":0.61},{"series":"HCGA (number 8)","gen":265,"div":0.598},{"series":"HCGA (number 8)","gen":269,"div":0.59},{"series":"HCGA (number 8)","gen":274,"div":0.586},{"series":"HCGA (number 8)","gen":279,"div":0.584},{"series":"HCGA (number 8)","gen":280,"div":0.604},{"series":"HCGA (number 8)","gen":282,"div":0.595},{"series":"HCGA (number 8)","gen":285,"div":0.588},{"series":"HCGA (number 8)","gen":289,"div":0.582},{"series":"HCGA (number 8)","gen":294,"div":0.58},{"series":"HCGA (number 8)","gen":299,"div":0.578},{"series":"HCGA (number 8)","gen":300,"div":0.616},{"series":"HCGA (number 8)","gen":302,"div":0.6},{"series":"HCGA (number 8)","gen":305,"div":0.588},{"series":"HCGA (number 8)","gen":309,"div":0.576},{"series":"HCGA (number 8)","gen":314,"div":0.571},{"series":"HCGA (number 8)","gen":319,"div":0.568},{"series":"HCGA (number 8)","gen":320,"div":0.604},{"series":"HCGA (number 8)","gen":322,"div":0.588},{"series":"HCGA (number 8)","gen":325,"div":0.575},{"series":"HCGA (number 8)","gen":329,"div":0.567},{"series":"HCGA (number 8)","gen":334,"div":0.565},{"series":"HCGA (number 8)","gen":339,"div":0.564},{"series":"HCGA (number 8)","gen":340,"div":0.612},{"series":"HCGA (number 8)","gen":342,"div":0.593},{"series":"HCGA (number 8)","gen":345,"div":0.576},{"series":"HCGA (number 8)","gen":349,"div":0.565},{"series":"HCGA (number 8)","gen":354,"div":0.561},{"series":"HCGA (number 8)","gen":359,"div":0.56},{"series":"HCGA (number 8)","gen":360,"div":0.596},{"series":"HCGA (number 8)","gen":362,"div":0.582},{"series":"HCGA (number 8)","gen":365,"div":0.569},{"series":"HCGA (number 8)","gen":369,"div":0.56},{"series":"HCGA (number 8)","gen":374,"div":0.557},{"series":"HCGA (number 8)","gen":379,"div":0.556},{"series":"HCGA (number 8)","gen":380,"div":0.592},{"series":"HCGA (number 8)","gen":382,"div":0.578},{"series":"HCGA (number 8)","gen":385,"div":0.565},{"series":"HCGA (number 8)","gen":389,"div":0.556},{"series":"HCGA (number 8)","gen":394,"div":0.553},{"series":"HCGA (number 8)","gen":399,"div":0.552},{"series":"HCGA (number 8)","gen":400,"div":0.586},{"series":"HCGA (number 8)","gen":402,"div":0.573},{"series":"HCGA (number 8)","gen":405,"div":0.561},{"series":"HCGA (number 8)","gen":409,"div":0.552},{"series":"HCGA (number 8)","gen":414,"div":0.55},{"series":"HCGA (number 8)","gen":419,"div":0.549},{"series":"HCGA (number 8)","gen":420,"div":0.588},{"series":"HCGA (number 8)","gen":422,"div":0.573},{"series":"HCGA (number 8)","gen":425,"div":0.56},{"series":"HCGA (number 8)","gen":429,"div":0.55},{"series":"HCGA (number 8)","gen":434,"div":0.548},{"series":"HCGA (number 8)","gen":439,"div":0.547},{"series":"HCGA (number 8)","gen":440,"div":0.588},{"series":"HCGA (number 8)","gen":442,"div":0.572},{"series":"HCGA (number 8)","gen":445,"div":0.559},{"series":"HCGA (number 8)","gen":449,"div":0.549},{"series":"HCGA (number 8)","gen":454,"div":0.547},{"series":"HCGA (number 8)","gen":459,"div":0.547},{"series":"HCGA (number 8)","gen":460,"div":0.576},{"series":"HCGA (number 8)","gen":462,"div":0.565},{"series":"HCGA (number 8)","gen":465,"div":0.555},{"series":"HCGA (number 8)","gen":469,"div":0.548},{"series":"HCGA (number 8)","gen":474,"div":0.547},{"series":"HCGA (number 8)","gen":479,"div":0.547},{"series":"HCGA (number 8)","gen":480,"div":0.586},{"series":"HCGA (number 8)","gen":482,"div":0.571},{"series":"HCGA (number 8)","gen":485,"div":0.558},{"series":"HCGA (number 8)","gen":489,"div":0.548},{"series":"HCGA (number 8)","gen":494,"div":0.546},{"series":"HCGA (number 8)","gen":499,"div":0.546},{"series":"HCGA (number 8)","gen":500,"div":0.575}
]
},
"data": {"name": "d"},
"encoding": {
 "x": {"field": "gen", "type": "quantitative", "scale": {"domain": [0, 500], "nice": false}, "axis": {"title": "Generation", "values": [0, 100, 200, 300, 400, 500], "labelPadding": 7, "titleBaseline": "alphabetic", "titleY": 47}},
 "y": {"field": "div", "type": "quantitative", "scale": {"domain": [0, 0.9], "nice": false}, "axis": {"title": "Diversity", "values": [0, 0.1, 0.2, 0.3, 0.4, 0.5, 0.6, 0.7, 0.8, 0.9], "format": ".1f", "labelPadding": 5, "titleAngle": -90, "titleBaseline": "alphabetic", "titleAlign": "center", "titleX": -50, "titleY": 186}}
},
"layer": [
 {"mark": {"type": "line", "strokeWidth": 1.3},
  "encoding": {"color": {"field": "series", "type": "nominal",
    "scale": {"domain": ["CGA", "HCGA (number 2)", "HCGA (number 4)", "HCGA (number 6)", "HCGA (number 8)"], "range": ["#000000", "#a2379b", "#ee2a24", "#1fa54b", "#2e3192"]},
    "legend": {"title": null, "orient": "none", "legendX": 215.5, "legendY": 0.5, "padding": 0, "rowPadding": 2, "labelFont": "Liberation Serif, Times New Roman, serif", "labelFontSize": 21, "labelColor": "black", "labelLimit": 300, "symbolType": "M-1.94,0H1.94", "symbolSize": 256, "symbolStrokeWidth": 1.5, "symbolOffset": 0, "labelOffset": 13.5}}}},
 {"mark": {"type": "line", "strokeWidth": 1.3},
  "encoding": {"stroke": {"field": "series", "type": "nominal", "legend": null,
    "scale": {"domain": ["CGA", "HCGA (number 2)", "HCGA (number 4)", "HCGA (number 6)", "HCGA (number 8)"], "range": ["#111111", "#c47bb8", "#e8262b", "#8cc63f", "#3670b8"]}}}}
]
}
